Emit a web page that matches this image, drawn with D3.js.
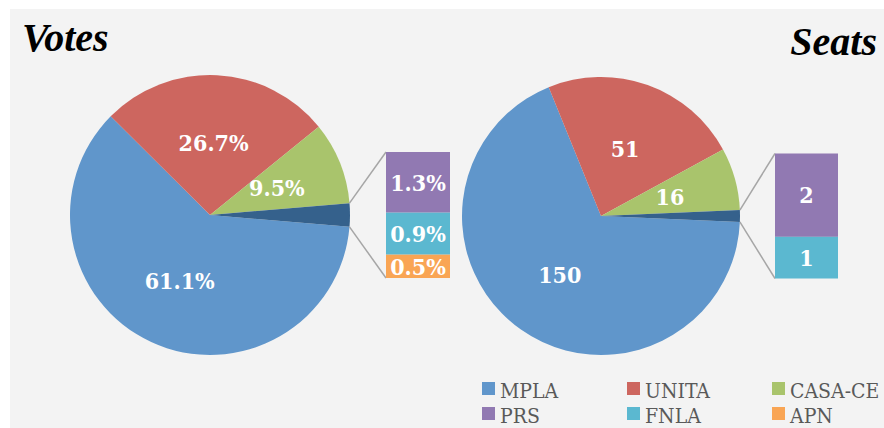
<!DOCTYPE html>
<html>
<head>
<meta charset="utf-8">
<script src="https://cdn.jsdelivr.net/npm/d3@7"></script>
<style>
  body { margin: 0; background: #fff; }
</style>
</head>
<body>
<div class="canvas"></div>
<script>
// data
var parties = ["MPLA", "UNITA", "CASA-CE", "PRS", "FNLA", "APN"];
var votePct = [61.1, 26.7, 9.5, 1.3, 0.9, 0.5];
var seatCount = [150, 51, 16, 2, 1, 0];
var pieCount = 3; // first 3 parties in the pie, rest go into the bar

var colors = ["#6096cb", "#cd665f", "#a9c46c", "#9179b2", "#5bb8d0", "#f9a554"];
var otherColor = "#35618c";

var W = 884, H = 428;
var svg = d3.select(".canvas").append("svg").attr("width", W).attr("height", H);

svg.append("rect").attr("x", 10).attr("y", 9).attr("width", W - 10).attr("height", H - 9)
  .attr("fill", "#f3f3f3");

var serif = "'Liberation Serif', 'DejaVu Serif', serif";
var cond = "'DejaVu Serif Condensed', 'Liberation Serif', serif";

function drawChart(values, opt) {
  var rows = parties.map(function(p, i) { return {name: p, value: values[i], color: colors[i]}; });
  var main = rows.slice(0, pieCount);
  var rest = rows.slice(pieCount);
  var otherTotal = d3.sum(rest, function(d) { return d.value; });
  var total = d3.sum(rows, function(d) { return d.value; });

  var pieData = main.concat([{name: "Other", value: otherTotal, color: otherColor}]);
  var start = Math.PI / 2 + (otherTotal / total) * Math.PI;
  var pie = d3.pie().sort(null).value(function(d) { return d.value; })
    .startAngle(start).endAngle(start + 2 * Math.PI);
  var arcs = pie(pieData);
  var arc = d3.arc().innerRadius(0).outerRadius(opt.r);
  var labelArc = d3.arc().innerRadius(0).outerRadius(opt.r * 1.03);

  var g = svg.append("g").attr("transform", "translate(" + opt.cx + "," + opt.cy + ")");
  g.selectAll("path").data(arcs).enter().append("path")
    .attr("d", arc).attr("fill", function(d) { return d.data.color; });

  g.selectAll("text").data(arcs.filter(function(d) { return d.data.name != "Other"; }))
    .enter().append("text")
    .attr("transform", function(d) { return "translate(" + labelArc.centroid(d) + ")"; })
    .attr("text-anchor", "middle").attr("dy", "0.36em")
    .style("font-family", cond).style("font-weight", "bold").style("font-size", "23px")
    .attr("fill", "#fff")
    .text(function(d) { return opt.fmt(d.data.value); });

  // bar of the small parties
  var y = d3.scaleLinear().domain([0, otherTotal]).range([0, opt.barH]);
  var top = opt.cy - opt.barH / 2;
  var acc = 0;
  rest.forEach(function(d) { d.y0 = acc; acc += d.value; d.y1 = acc; });
  var bars = rest.filter(function(d) { return d.value > 0; });

  var other = arcs[arcs.length - 1];
  var p1 = [opt.cx + opt.r * Math.sin(other.startAngle), opt.cy - opt.r * Math.cos(other.startAngle)];
  var p2 = [opt.cx + opt.r * Math.sin(other.endAngle), opt.cy - opt.r * Math.cos(other.endAngle)];
  svg.append("line").attr("x1", p1[0]).attr("y1", p1[1]).attr("x2", opt.barX).attr("y2", top)
    .attr("stroke", "#a6a6a6").attr("stroke-width", 1.5);
  svg.append("line").attr("x1", p2[0]).attr("y1", p2[1]).attr("x2", opt.barX).attr("y2", top + opt.barH)
    .attr("stroke", "#a6a6a6").attr("stroke-width", 1.5);

  svg.append("g").selectAll("rect").data(bars).enter().append("rect")
    .attr("x", opt.barX).attr("width", opt.barW)
    .attr("y", function(d) { return top + y(d.y0); })
    .attr("height", function(d) { return y(d.y1) - y(d.y0); })
    .attr("fill", function(d) { return d.color; });

  svg.append("g").selectAll("text").data(bars).enter().append("text")
    .attr("x", opt.barX + opt.barW / 2)
    .attr("y", function(d) { return top + y((d.y0 + d.y1) / 2); })
    .attr("text-anchor", "middle").attr("dy", "0.36em")
    .style("font-family", cond).style("font-weight", "bold").style("font-size", "23px")
    .attr("fill", "#fff")
    .text(function(d) { return opt.fmt(d.value); });

  svg.append("text").attr("x", opt.titleX).attr("y", opt.titleY)
    .attr("text-anchor", opt.titleAnchor)
    .style("font-family", serif).style("font-weight", "bold").style("font-style", "italic")
    .style("font-size", "40px").attr("fill", "#000")
    .text(opt.title);
}

drawChart(votePct, {cx: 210, cy: 215, r: 140, barX: 386, barW: 64, barH: 126,
  fmt: function(v) { return d3.format(".1f")(v) + "%"; },
  title: "Votes", titleX: 22, titleY: 51, titleAnchor: "start"});

drawChart(seatCount, {cx: 601, cy: 216, r: 139, barX: 775, barW: 63, barH: 125,
  fmt: function(v) { return String(v); },
  title: "Seats", titleX: 877, titleY: 55, titleAnchor: "end"});

// legend
var legend = svg.append("g").selectAll("g").data(parties).enter().append("g")
  .attr("transform", function(d, i) { return "translate(" + (482 + (i % 3) * 145) + "," + (382 + Math.floor(i / 3) * 25) + ")"; });
legend.append("rect").attr("width", 13).attr("height", 13)
  .attr("fill", function(d, i) { return colors[i]; });
legend.append("text").attr("x", 18).attr("y", 16)
  .style("font-family", cond).style("font-size", "21px").attr("fill", "#595959")
  .text(function(d) { return d; });
</script>
</body>
</html>
